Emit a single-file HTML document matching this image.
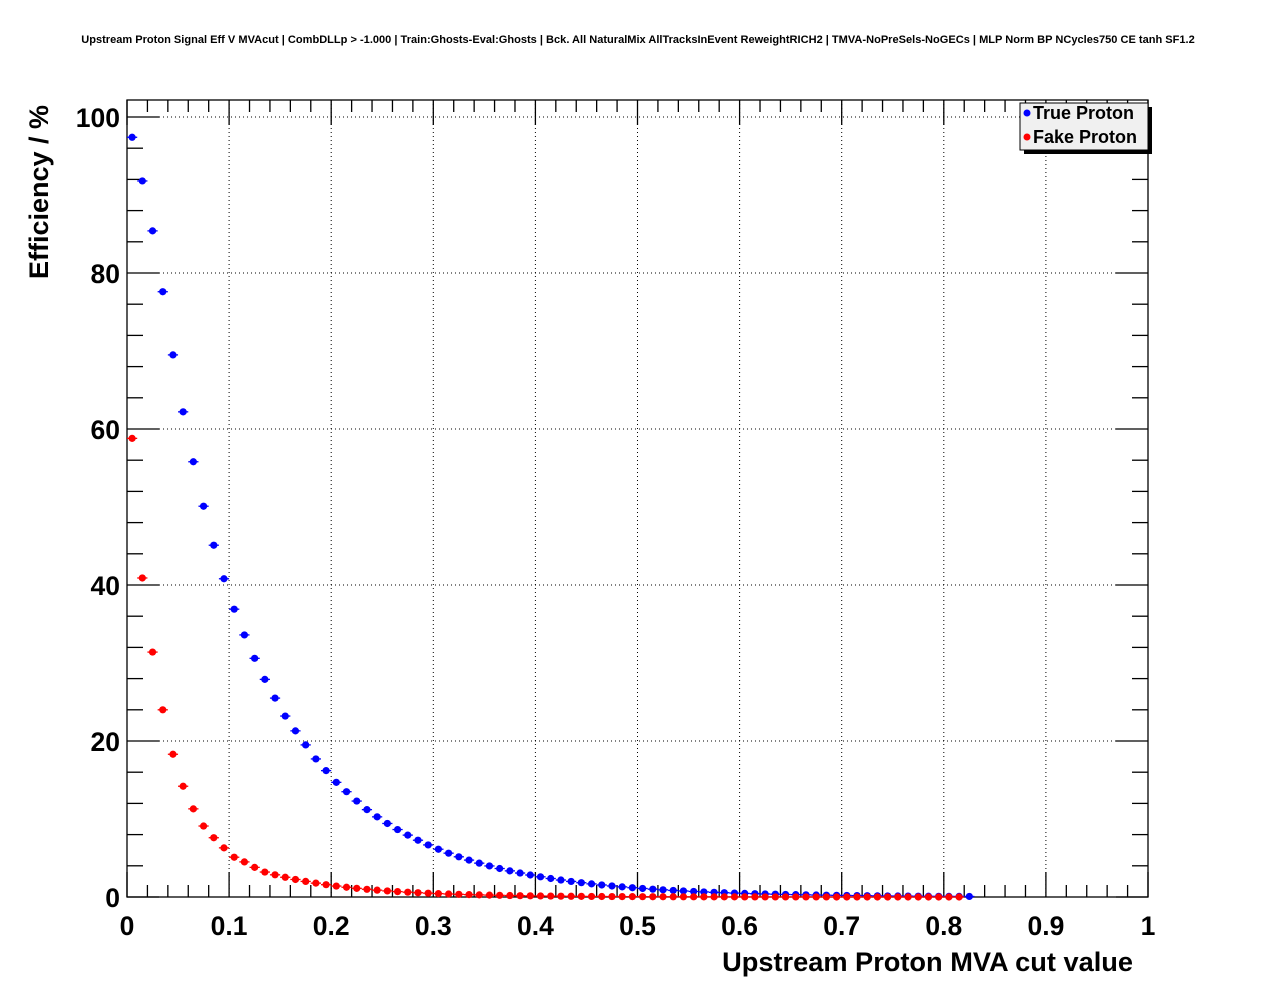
<!DOCTYPE html>
<html><head><meta charset="utf-8"><style>
html,body{margin:0;padding:0;background:#fff;}
svg text{font-family:"Liberation Sans",Arial,sans-serif;font-weight:bold;}
</style></head><body>
<svg id="s" width="1276" height="996" xmlns="http://www.w3.org/2000/svg">
<rect width="1276" height="996" fill="#fff"/>
<text x="638" y="43" font-size="11.05" text-anchor="middle">Upstream Proton Signal Eff V MVAcut | CombDLLp &gt; -1.000 | Train:Ghosts-Eval:Ghosts | Bck. All NaturalMix AllTracksInEvent ReweightRICH2 | TMVA-NoPreSels-NoGECs | MLP Norm BP NCycles750 CE tanh SF1.2</text>
<g id="grid" stroke="#000" stroke-width="1" stroke-dasharray="1,3"></g>
<g id="ticks" stroke="#000" stroke-width="1.3"></g>
<rect x="127" y="100" width="1021" height="797" fill="none" stroke="#000" stroke-width="1.3"/>
<g id="lab" font-size="26.5"></g>
<text x="1133" y="971" font-size="27.2" text-anchor="end">Upstream Proton MVA cut value</text>
<text transform="translate(48,279) rotate(-90)" font-size="27" text-anchor="start">Efficiency / %</text>
<g id="pts"></g>
<rect x="1024" y="107" width="128" height="47" fill="#000"/>
<rect x="1020" y="103" width="128" height="47" fill="#f0f0f0" stroke="#000" stroke-width="1"/>
<circle cx="1027" cy="113" r="3.5" fill="#00f"/>
<text x="1033" y="119" font-size="18">True Proton</text>
<circle cx="1027" cy="137" r="3.5" fill="#f00"/>
<text x="1033" y="143" font-size="18">Fake Proton</text>
</svg>
<script>
var NS="http://www.w3.org/2000/svg";
function el(p,t,a,txt){var e=document.createElementNS(NS,t);for(var k in a)e.setAttribute(k,a[k]);if(txt!==undefined)e.textContent=txt;document.getElementById(p).appendChild(e);}
function X(v){return 127+v*1021;}
function Y(v){return 897-v*7.8;}
for(var i=0;i<=10;i++){var x=X(i/10);
 if(i>0&&i<10)el("grid","line",{x1:x,y1:100,x2:x,y2:897});
 el("ticks","line",{x1:x,y1:897,x2:x,y2:872});el("ticks","line",{x1:x,y1:100,x2:x,y2:125});
 el("lab","text",{x:x,y:935,"text-anchor":"middle"},i==0?"0":i==10?"1":("0."+i));
 if(i<10)for(var j=1;j<5;j++){var xm=X(i/10+j/50);el("ticks","line",{x1:xm,y1:897,x2:xm,y2:885});el("ticks","line",{x1:xm,y1:100,x2:xm,y2:112});}
}
for(var v=0;v<=100;v+=20){var y=Y(v);
 if(v>0)el("grid","line",{x1:127,y1:y,x2:1148,y2:y});
 el("ticks","line",{x1:127,y1:y,x2:159,y2:y});el("ticks","line",{x1:1148,y1:y,x2:1116,y2:y});
 el("lab","text",{x:120,y:y+10,"text-anchor":"end"},""+v);
}
for(var v=4;v<=100;v+=4){if(v%20==0)continue;var y=Y(v);el("ticks","line",{x1:127,y1:y,x2:143,y2:y});el("ticks","line",{x1:1148,y1:y,x2:1132,y2:y});}
var blue=[97.4,91.8,85.4,77.6,69.5,62.2,55.8,50.1,45.1,40.8,36.9,33.6,30.6,27.9,25.5,23.2,21.3,19.5,17.7,16.2,14.7,13.5,12.3,11.2];
var red=[58.8,40.9,31.4,24,18.3,14.2,11.3,9.1,7.6,6.3,5.1,4.5,3.8,3.2];
function pt(c,x,v){el("pts","line",{x1:X(x-0.005),y1:Y(v),x2:X(x+0.005),y2:Y(v),stroke:c,"stroke-width":1.3});el("pts","circle",{cx:X(x),cy:Y(v),r:3.6,fill:c});}
for(var k=0;k<=82;k++){var x=0.005+0.01*k;var v=k<blue.length?blue[k]:11.2*Math.exp(-(x-0.235)/0.116);pt("#00f",x,v);}
for(var k=0;k<=81;k++){var x=0.005+0.01*k;var v=k<red.length?red[k]:3.2*Math.exp(-(x-0.135)/0.085);pt("#f00",x,v);}
</script>
</body></html>
